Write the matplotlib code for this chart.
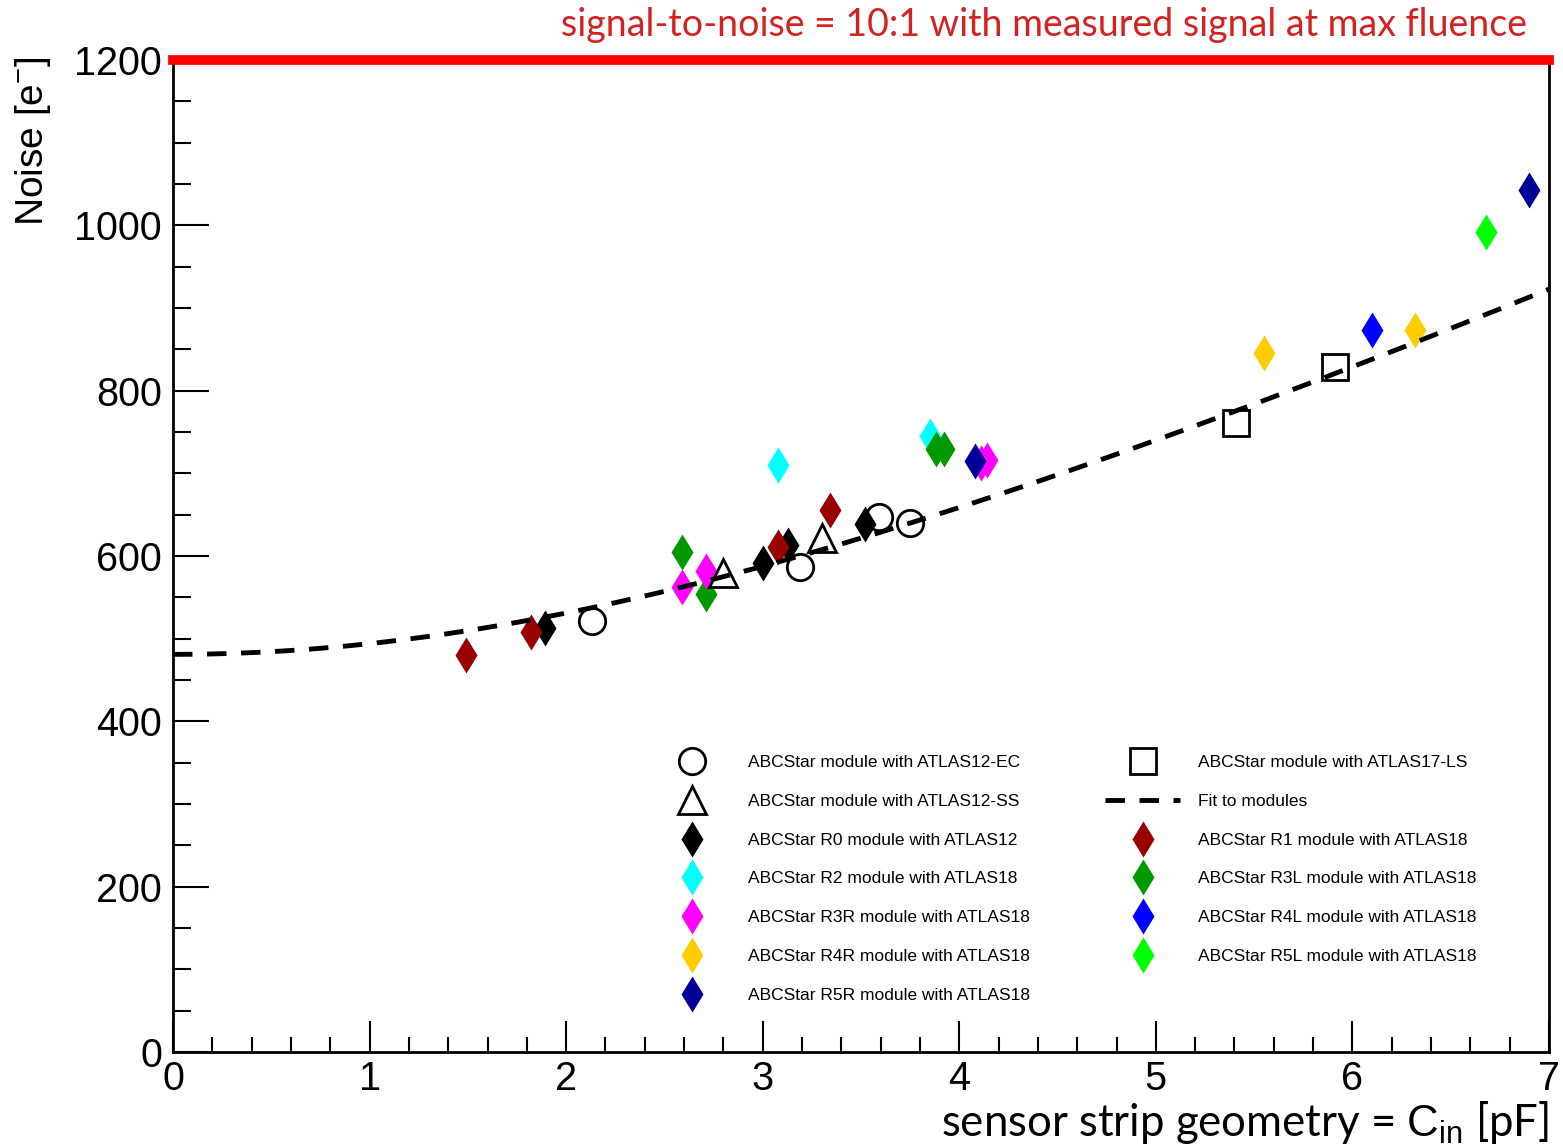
import numpy as np
import matplotlib
matplotlib.use("Agg")
import matplotlib.pyplot as plt
from matplotlib.lines import Line2D
from matplotlib.ticker import MultipleLocator

plt.rcParams['font.family'] = ['Liberation Sans', 'DejaVu Sans']
plt.rcParams['mathtext.fontset'] = 'custom'
plt.rcParams['mathtext.rm'] = 'Liberation Sans'
plt.rcParams['mathtext.it'] = 'Liberation Sans'

# ---------------- data ----------------
ec_x = [2.13, 3.19, 3.59, 3.75]
ec_y = [521, 587, 647, 640]
ss_x = [2.80, 3.30]
ss_y = [579, 622]
ls_x = [5.41, 5.91]
ls_y = [761, 829]
r0_x = [1.89, 3.00, 3.13, 3.52]
r0_y = [513, 591, 613, 639]
r1_x = [1.49, 1.82, 3.08, 3.34]
r1_y = [480, 508, 611, 656]
r2_x = [3.08, 3.85]
r2_y = [710, 745]
r3l_x = [2.59, 2.71, 3.88, 3.92]
r3l_y = [605, 554, 729, 729]
r3r_x = [2.59, 2.71, 4.11, 4.14]
r3r_y = [562, 582, 713, 716]
r4l_x = [6.10]
r4l_y = [873]
r4r_x = [5.55, 6.32]
r4r_y = [845, 873]
r5l_x = [6.68]
r5l_y = [992]
r5r_x = [4.08, 6.90]
r5r_y = [715, 1043]

fit_const = 481.0   # noise at C=0 [e-]
fit_slope = 112.5   # e- per pF (added in quadrature)
sn_limit = 1200

# ---------------- figure ----------------
fig = plt.figure(figsize=(15.63, 11.47), dpi=100)
ax = fig.add_axes([173/1563, 1-1052/1147, (1549-173)/1563, (1052-60)/1147])

ms_d = 18
ax.plot(r0_x, r0_y, 'd', color='black', ms=ms_d, mec='none')
ax.plot(r1_x, r1_y, 'd', color='#990000', ms=ms_d, mec='none')
ax.plot(r2_x, r2_y, 'd', color='#00FFFF', ms=ms_d, mec='none')
ax.plot(r3l_x, r3l_y, 'd', color='#009900', ms=ms_d, mec='none')
ax.plot(r3r_x, r3r_y, 'd', color='#FF00FF', ms=ms_d, mec='none')
ax.plot(r4r_x, r4r_y, 'd', color='#FFCC00', ms=ms_d, mec='none')
ax.plot(r4l_x, r4l_y, 'd', color='#0000FF', ms=ms_d, mec='none')
ax.plot(r5l_x, r5l_y, 'd', color='#00FF00', ms=ms_d, mec='none')
ax.plot(r5r_x, r5r_y, 'd', color='#000099', ms=ms_d, mec='none')
ax.plot(ec_x, ec_y, 'o', mfc='none', mec='black', mew=2, ms=19)
ax.plot(ss_x, ss_y, '^', mfc='none', mec='black', mew=2, ms=20)
ax.plot(ls_x, ls_y, 's', mfc='none', mec='black', mew=2, ms=19)

cx = np.linspace(0, 7, 300)
ax.plot(cx, np.sqrt(fit_const**2 + (fit_slope*cx)**2), '--', color='black',
        lw=3.5, dashes=(4, 3))

ax.axhline(sn_limit, color='red', lw=7, clip_on=False, zorder=5)

ax.set_xlim(0, 7)
ax.set_ylim(0, 1200)
ax.xaxis.set_major_locator(MultipleLocator(1))
ax.xaxis.set_minor_locator(MultipleLocator(0.2))
ax.yaxis.set_major_locator(MultipleLocator(200))
ax.yaxis.set_minor_locator(MultipleLocator(50))
ax.tick_params(axis='both', which='both', direction='in', top=False, right=False,
               width=1.5, labelsize=28.5)
ax.tick_params(axis='x', which='major', length=22, pad=6)
ax.tick_params(axis='x', which='minor', length=11)
ax.tick_params(axis='y', which='major', length=26, pad=8)
ax.tick_params(axis='y', which='minor', length=13)
for s in ax.spines.values():
    s.set_linewidth(2)

# legend
def dh(c):
    return Line2D([], [], ls='none', marker='d', color=c, ms=ms_d, mec='none')
handles = [
    Line2D([], [], ls='none', marker='o', mfc='none', mec='black', mew=2, ms=19),
    Line2D([], [], ls='none', marker='^', mfc='none', mec='black', mew=2, ms=20),
    dh('black'), dh('#00FFFF'), dh('#FF00FF'), dh('#FFCC00'), dh('#000099'),
    Line2D([], [], ls='none', marker='s', mfc='none', mec='black', mew=2, ms=19),
    Line2D([], [], ls='--', color='black', lw=3.5, dashes=(4, 3)),
    dh('#990000'), dh('#009900'), dh('#0000FF'), dh('#00FF00'),
]
labels = [
    'ABCStar module with ATLAS12-EC',
    'ABCStar module with ATLAS12-SS',
    'ABCStar R0 module with ATLAS12',
    'ABCStar R2 module with ATLAS18',
    'ABCStar R3R module with ATLAS18',
    'ABCStar R4R module with ATLAS18',
    'ABCStar R5R module with ATLAS18',
    'ABCStar module with ATLAS17-LS',
    'Fit to modules',
    'ABCStar R1 module with ATLAS18',
    'ABCStar R3L module with ATLAS18',
    'ABCStar R4L module with ATLAS18',
    'ABCStar R5L module with ATLAS18',
]
leg = ax.legend(handles, labels, ncol=2, frameon=False, fontsize=12.5,
                loc='upper left', bbox_to_anchor=(655/1563, 1-755/1147),
                bbox_transform=fig.transFigure, borderaxespad=0, borderpad=0,
                handlelength=4.3, handletextpad=1.05, columnspacing=4.35,
                labelspacing=1.36)

fig.text(1527/1563, 1-25/1147, 'signal-to-noise = 10:1 with measured signal at max fluence',
         color='#D42222', fontsize=27, family=['Lato', 'DejaVu Sans'],
         ha='right', va='center')
fig.text(1549/1563, 1-1136/1147, r'sensor strip geometry = $\mathrm{C_{in}}$ [pF]',
         color='black', fontsize=31.5, family=['Lato', 'DejaVu Sans'],
         ha='right', va='baseline')
fig.text(33/1563, 1-56/1147, r'Noise [e$^{-}$]', rotation=90, fontsize=28,
         ha='center', va='top')

fig.savefig('out.png', dpi=100)
